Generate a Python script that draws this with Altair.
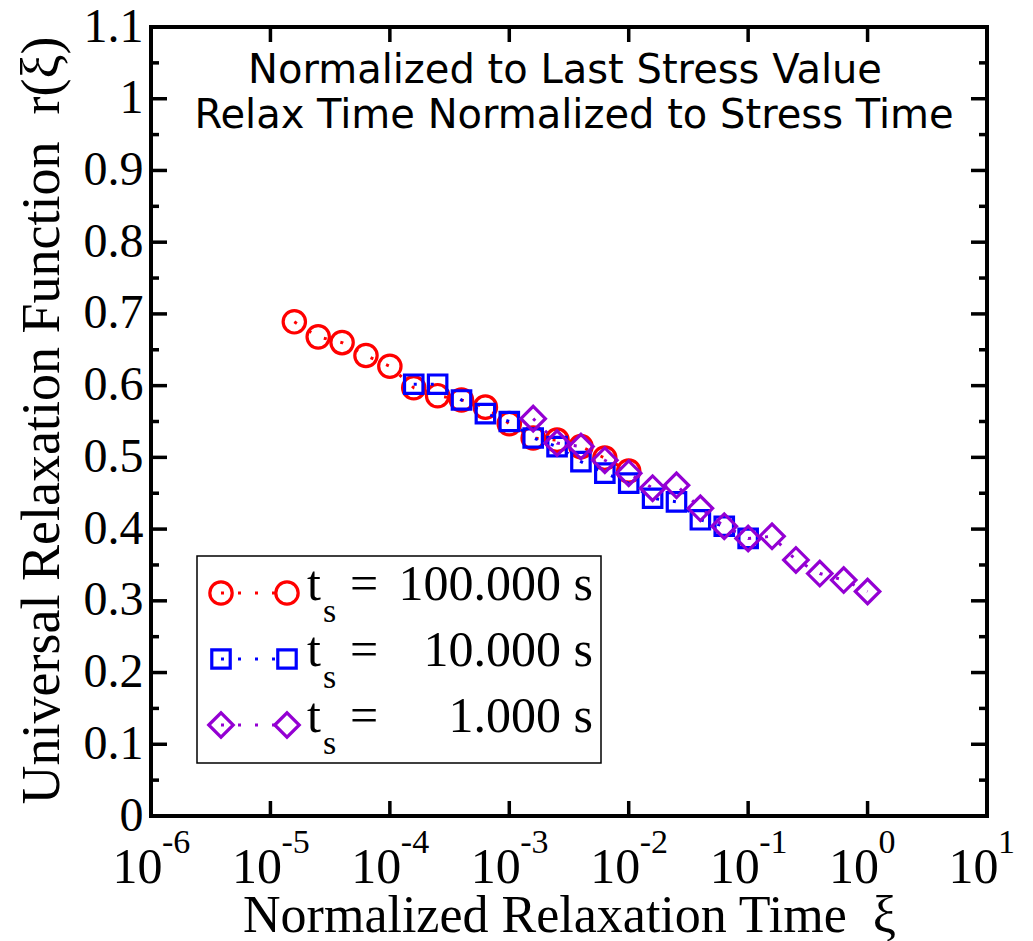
import altair as alt
import pandas as pd

# ---------------- data ----------------
series_labels = ["100.000 s", "10.000 s", "1.000 s"]
series_colors = ["#ff0000", "#0000ff", "#9400d3"]
series_shapes = ["circle", "square", "diamond"]
series_sizes = [500, 340, 600]

red_xi = [1.585e-5, 2.512e-5, 3.981e-5, 6.310e-5, 1.0e-4, 1.585e-4, 2.512e-4, 3.981e-4,
          6.310e-4, 1.0e-3, 1.585e-3, 2.512e-3, 3.981e-3, 6.310e-3, 1.0e-2]
red_r = [0.689, 0.668, 0.660, 0.642, 0.627, 0.597, 0.586, 0.580,
         0.570, 0.547, 0.527, 0.524, 0.515, 0.499, 0.481]

blue_xi = [1.585e-4, 2.512e-4, 3.981e-4, 6.310e-4, 1.0e-3, 1.585e-3, 2.512e-3, 3.981e-3,
           6.310e-3, 1.0e-2, 1.585e-2, 2.512e-2, 3.981e-2, 6.310e-2, 1.0e-1]
blue_r = [0.602, 0.602, 0.580, 0.561, 0.550, 0.527, 0.515, 0.494,
          0.478, 0.464, 0.443, 0.438, 0.413, 0.404, 0.387]

purple_xi = [1.585e-3, 2.512e-3, 3.981e-3, 6.310e-3, 1.0e-2, 1.585e-2, 2.512e-2, 3.981e-2,
             6.310e-2, 1.0e-1, 1.585e-1, 2.512e-1, 3.981e-1, 6.310e-1, 1.0]
purple_r = [0.554, 0.520, 0.515, 0.496, 0.478, 0.457, 0.461, 0.429,
            0.404, 0.387, 0.390, 0.357, 0.338, 0.329, 0.313]

x_decades = [1e-6, 1e-5, 1e-4, 1e-3, 1e-2, 1e-1, 1e0, 1e1]
x_exponents = ["-6", "-5", "-4", "-3", "-2", "-1", "0", "1"]
x_inner_ticks = [1e-5, 1e-4, 1e-3, 1e-2, 1e-1, 1e0]
y_labels = [0, 0.1, 0.2, 0.3, 0.4, 0.5, 0.6, 0.7, 0.8, 0.9, 1.0, 1.1]
y_major_ticks = [0.1, 0.2, 0.3, 0.4, 0.5, 0.6, 0.7, 0.8, 0.9, 1.0]
y_minor_ticks = [0.05, 0.15, 0.25, 0.35, 0.45, 0.55, 0.65, 0.75, 0.85, 0.95, 1.05]

annotation_lines = ["Normalized to Last Stress Value",
                    "Relax Time Normalized to Stress Time"]
x_title = "Normalized Relaxation Time\u00a0 ξ"
y_title = "Universal Relaxation Function\u00a0 r(ξ)"

# ---------------- layout ----------------
W, H = 836, 789
SERIF = "Liberation Serif"
SANS = "DejaVu Sans"

xscale = alt.Scale(type="log", domain=[1e-6, 10], nice=False)
yscale = alt.Scale(domain=[0, 1.1], nice=False, zero=False)

x_axis = alt.Axis(values=x_decades, labelExpr="'10'", labelFont=SERIF, labelFontSize=50,
                  labelColor="black", labelAlign="right", labelOffset=11,
                  labelBaseline="alphabetic", labelPadding=66, ticks=False, tickSize=0,
                  domain=False, grid=False, labelFlush=False, labelOverlap=False,
                  title=x_title, titleFont=SERIF, titleFontSize=52,
                  titleFontWeight="normal", titleColor="black", titleX=418, titleY=115,
                  titleBaseline="alphabetic", titleAlign="center")
y_axis = alt.Axis(values=y_labels, format="~g", labelFont=SERIF, labelFontSize=48,
                  labelColor="black", labelPadding=8, ticks=False, tickSize=0,
                  domain=False, grid=False, labelFlush=False, labelOverlap=False,
                  title=y_title, titleFont=SERIF,
                  titleFontSize=54, titleFontWeight="normal", titleColor="black",
                  titleX=-93, titleY=393, titleAngle=270, titleBaseline="alphabetic",
                  titleAlign="center")
XE = alt.X("xi:Q", scale=xscale, axis=x_axis)
YE = alt.Y("r:Q", scale=yscale, axis=y_axis)

# ---------------- series ----------------
series_layers = []
for lab, col, shp, sz, xs, ys in zip(series_labels, series_colors, series_shapes, series_sizes,
                                     [red_xi, blue_xi, purple_xi], [red_r, blue_r, purple_r]):
    d = alt.Chart(pd.DataFrame({"xi": xs, "r": ys}))
    series_layers.append(d.mark_line(color=col, strokeDash=[3, 14], strokeWidth=3,
                                     strokeCap="butt").encode(x=XE, y=YE))
    series_layers.append(d.mark_point(shape=shp, size=sz, filled=False, color=col,
                                      strokeWidth=3.2, opacity=1).encode(x=XE, y=YE))

# ---------------- ticks (inward) ----------------
xt = alt.Chart(pd.DataFrame({"xi": x_inner_ticks}))
ymj = alt.Chart(pd.DataFrame({"r": y_major_ticks}))
ymn = alt.Chart(pd.DataFrame({"r": y_minor_ticks}))
tick_layers = [
    xt.mark_rule(color="black", strokeWidth=3.5).encode(x=XE, y=alt.value(H), y2=alt.value(H - 15)),
    xt.mark_rule(color="black", strokeWidth=3.5).encode(x=XE, y=alt.value(0), y2=alt.value(15)),
    ymj.mark_rule(color="black", strokeWidth=3.5).encode(y=YE, x=alt.value(0), x2=alt.value(16)),
    ymj.mark_rule(color="black", strokeWidth=3.5).encode(y=YE, x=alt.value(W), x2=alt.value(W - 16)),
    ymn.mark_rule(color="black", strokeWidth=3.5).encode(y=YE, x=alt.value(0), x2=alt.value(8)),
    ymn.mark_rule(color="black", strokeWidth=3.5).encode(y=YE, x=alt.value(W), x2=alt.value(W - 8)),
]

# exponents of x tick labels
exps = alt.Chart(pd.DataFrame({"xi": x_decades, "e": x_exponents})).mark_text(
    font=SERIF, fontSize=34, align="left", baseline="alphabetic", dx=11, color="black"
).encode(x=XE, y=alt.value(H + 37), text="e:N")

# ---------------- annotation ----------------
one = pd.DataFrame({"a": [0]})
ann = [
    alt.Chart(one).mark_text(font=SANS, fontSize=40, align="center", baseline="alphabetic",
                             color="black").encode(
        x=alt.value(414), y=alt.value(56), text=alt.value(annotation_lines[0])),
    alt.Chart(one).mark_text(font=SANS, fontSize=40, align="center", baseline="alphabetic",
                             color="black").encode(
        x=alt.value(423), y=alt.value(101), text=alt.value(annotation_lines[1])),
]

# ---------------- custom legend ----------------
leg = [alt.Chart(one).mark_rect(fill="white", stroke="black", strokeWidth=1.5).encode(
    x=alt.value(46), x2=alt.value(450), y=alt.value(529), y2=alt.value(736))]
for i, (lab, col, shp, sz) in enumerate(zip(series_labels, series_colors, series_shapes, series_sizes)):
    yc = 566 + 66 * i
    leg.append(alt.Chart(one).mark_rule(color=col, strokeDash=[3, 14], strokeWidth=3,
                                        strokeCap="butt").encode(
        x=alt.value(70), x2=alt.value(136), y=alt.value(yc)))
    for xp in (70, 136):
        leg.append(alt.Chart(one).mark_point(shape=shp, size=sz, filled=False, color=col,
                                             strokeWidth=3.2, opacity=1).encode(
            x=alt.value(xp), y=alt.value(yc)))
    leg.append(alt.Chart(one).mark_text(font=SERIF, fontSize=50, align="left",
                                        baseline="alphabetic", color="black").encode(
        x=alt.value(156), y=alt.value(yc + 7), text=alt.value("t")))
    leg.append(alt.Chart(one).mark_text(font=SERIF, fontSize=34, align="left",
                                        baseline="alphabetic", color="black").encode(
        x=alt.value(172), y=alt.value(yc + 29), text=alt.value("s")))
    leg.append(alt.Chart(one).mark_text(font=SERIF, fontSize=50, align="left",
                                        baseline="alphabetic", color="black").encode(
        x=alt.value(199), y=alt.value(yc + 7), text=alt.value("=")))
    leg.append(alt.Chart(one).mark_text(font=SERIF, fontSize=50, align="right",
                                        baseline="alphabetic", color="black").encode(
        x=alt.value(442), y=alt.value(yc + 7), text=alt.value(lab)))

chart = alt.layer(*series_layers, *tick_layers, exps, *ann, *leg).properties(
    width=W, height=H,
    autosize=alt.AutoSizeParams(type="none"),
    padding={"left": 151, "top": 27, "right": 46, "bottom": 125},
    background="white",
).configure_view(stroke="black", strokeWidth=4)

chart.save("out.html", embed_options={"renderer": "svg", "actions": False})
